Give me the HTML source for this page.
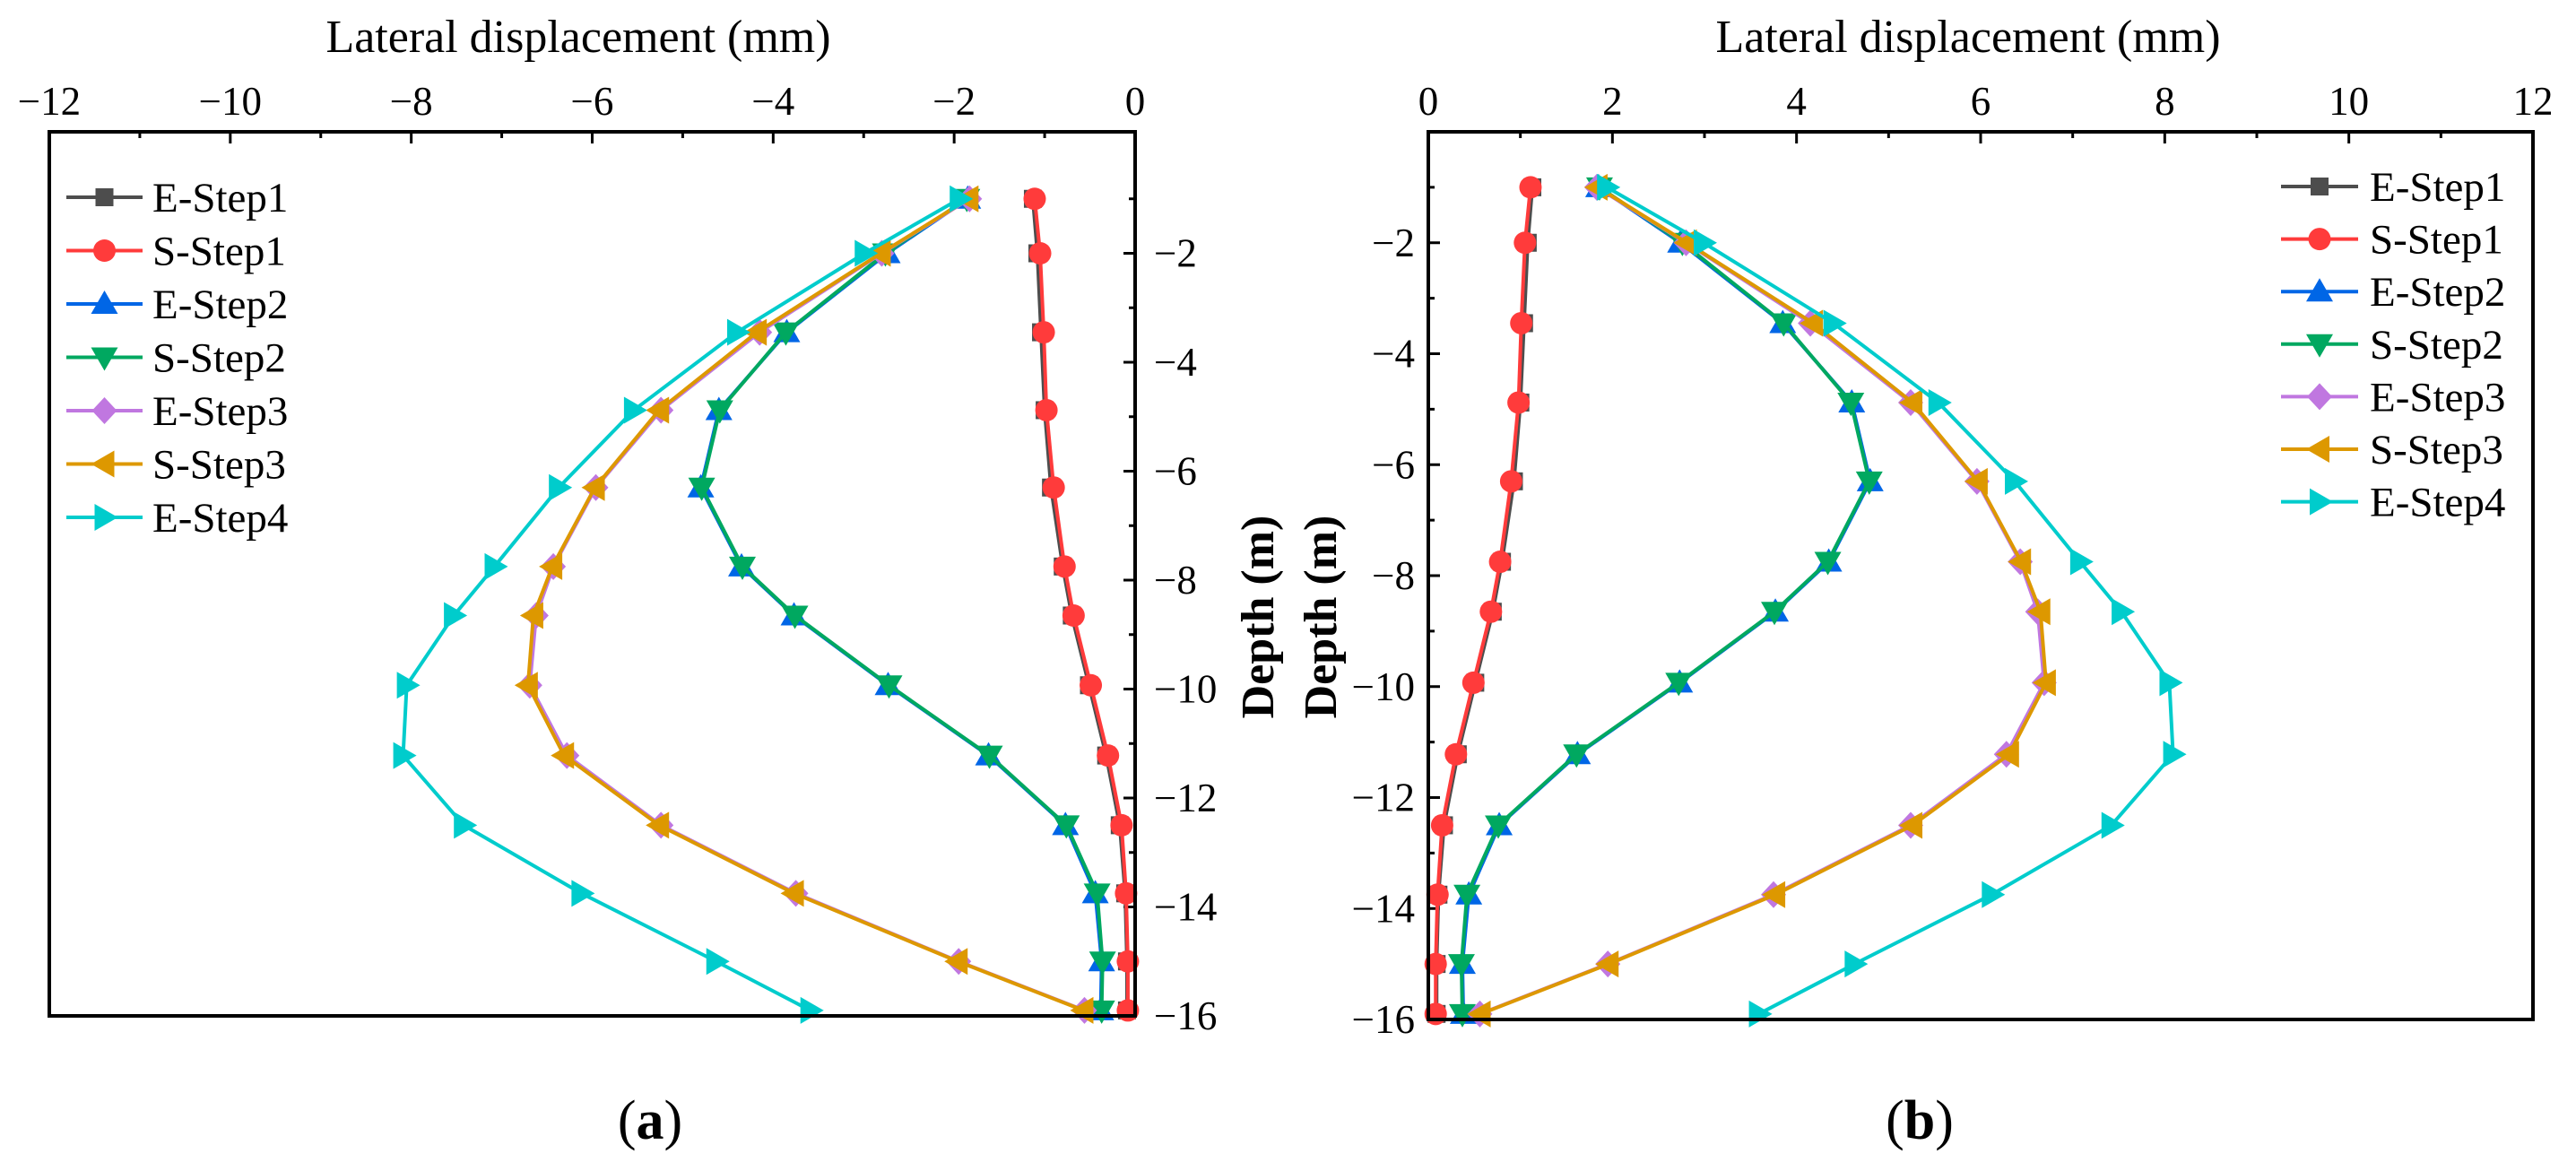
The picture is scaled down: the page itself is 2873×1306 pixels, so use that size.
<!DOCTYPE html>
<html><head><meta charset="utf-8"><style>
html,body{margin:0;padding:0;background:#fff;}
svg{display:block;font-family:"Liberation Serif",serif;}
</style></head><body>
<svg id="fig" width="2873" height="1306" viewBox="0 0 2873 1306" xmlns="http://www.w3.org/2000/svg"></svg>
<script>
const depths = [-1, -2, -3.45, -4.88, -6.3, -7.75, -8.65, -9.93, -11.22, -12.5, -13.75, -15, -15.9];
const eStep1 = [1.13, 1.08, 1.04, 1.0, 0.93, 0.8, 0.7, 0.51, 0.32, 0.17, 0.11, 0.09, 0.09];
const sStep1 = [1.11, 1.05, 1.01, 0.98, 0.9, 0.78, 0.68, 0.49, 0.3, 0.15, 0.1, 0.08, 0.08];
const eStep2 = [1.85, 2.74, 3.85, 4.6, 4.8, 4.35, 3.77, 2.73, 1.62, 0.77, 0.44, 0.37, 0.38];
const sStep2 = [1.86, 2.76, 3.86, 4.59, 4.79, 4.34, 3.76, 2.72, 1.61, 0.76, 0.42, 0.36, 0.37];
const eStep3 = [1.83, 2.8, 4.15, 5.24, 5.96, 6.43, 6.62, 6.69, 6.28, 5.24, 3.75, 1.95, 0.56];
const sStep3 = [1.84, 2.81, 4.18, 5.26, 5.97, 6.44, 6.65, 6.71, 6.31, 5.26, 3.77, 1.96, 0.57];
const eStep4 = [1.94, 2.99, 4.4, 5.54, 6.37, 7.08, 7.53, 8.05, 8.09, 7.42, 6.12, 4.63, 3.59];
const seriesNames = ["E-Step1","S-Step1","E-Step2","S-Step2","E-Step3","S-Step3","E-Step4"];
const seriesValues = [eStep1, sStep1, eStep2, sStep2, eStep3, sStep3, eStep4];
const xTicksA = [-12,-10,-8,-6,-4,-2,0];
const xTicksB = [0,2,4,6,8,10,12];
const yTicks = [-2,-4,-6,-8,-10,-12,-14,-16];

const colors = ["#4d4d4d","#ff3b3b","#0066e6","#00a860","#c077e0","#dd9800","#00cccc"];
const markers = ["square","circle","up","down","diamond","left","right"];
const NS = "http://www.w3.org/2000/svg";
const svg = document.getElementById("fig");
function mk(tag, attrs, parent){const e=document.createElementNS(NS,tag);for(const k in attrs)e.setAttribute(k,attrs[k]);(parent||svg).appendChild(e);return e;}

function marker(g, type, x, y, color){
  let e;
  if(type==="square") e=mk("rect",{x:x-10,y:y-10,width:20,height:20,fill:color},g);
  else if(type==="circle") e=mk("circle",{cx:x,cy:y,r:12.5,fill:color},g);
  else {
    let p;
    if(type==="up") p=[[x,y-15],[x+15,y+11],[x-15,y+11]];
    if(type==="down") p=[[x,y+15],[x+15,y-11],[x-15,y-11]];
    if(type==="diamond") p=[[x,y-15],[x+14,y],[x,y+15],[x-14,y]];
    if(type==="left") p=[[x-15,y],[x+11,y-15],[x+11,y+15]];
    if(type==="right") p=[[x+15,y],[x-11,y-15],[x-11,y+15]];
    e=mk("polygon",{points:p.map(q=>q.join(",")).join(" "),fill:color},g);
  }
  
  
}

function panel(cfg){
  const {id,L,R,T,B,y0,y16,xmin,xmax,sign,xticks,yAxisRight} = cfg;
  const g = mk("g",{});
  
  
  const xs = v => L + (v - xmin)/(xmax - xmin)*(R-L);
  const ys = d => y0 + (0 - d)/16*(y16-y0);
  for(let v=xmin; v<=xmax; v+=1){
    const major = (v%2===0);
    const t = mk("line",{x1:xs(v),x2:xs(v),y1:T,y2:T+(major?13:7),stroke:"#000","stroke-width":3},g);
    
    
  }
  xticks.forEach(v=>{
    const t = mk("text",{x:xs(v),y:128,"font-size":45,"text-anchor":"middle",fill:"#000"},g);
    t.textContent = v<0 ? "\u2212"+Math.abs(v) : String(v);
    
    
  });
  const yAx = yAxisRight ? R : L;
  const dir = yAxisRight ? -1 : 1;
  for(let d=-1; d>=-16; d-=1){
    const major = (d%2===0);
    const t = mk("line",{x1:yAx,x2:yAx+dir*(major?13:7),y1:ys(d),y2:ys(d),stroke:"#000","stroke-width":3},g);
    
    
  }
  yTicks.forEach(d=>{
    const t = mk("text",{x: yAxisRight ? R+21 : L-15, y: ys(d)+15,"font-size":45,"text-anchor": yAxisRight?"start":"end",fill:"#000"},g);
    t.textContent = "\u2212"+Math.abs(d);
    
    
  });
  seriesValues.forEach((vals,i)=>{
    const sg = mk("g",{},g);
    
    
    const pts = vals.map((v,j)=>[xs(sign*v), ys(depths[j])]);
    const pl = mk("polyline",{points:pts.map(p=>p.join(",")).join(" "),fill:"none",stroke:colors[i],"stroke-width":4,"stroke-linejoin":"round"},sg);
    
    
    pts.forEach(p=>marker(sg,markers[i],p[0],p[1],colors[i]));
  });
  const box = mk("rect",{x:L,y:T,width:R-L,height:B-T,fill:"none",stroke:"#000","stroke-width":4},g);
  
  
  const lg = mk("g",{},g);
  
  
  seriesNames.forEach((n,i)=>{
    const y = cfg.legY + i*cfg.legDy;
    const eg = mk("g",{},lg);
    
    
    mk("line",{x1:cfg.legX1,x2:cfg.legX2,y1:y,y2:y,stroke:colors[i],"stroke-width":4},eg);
    marker(eg,markers[i],(cfg.legX1+cfg.legX2)/2,y,colors[i]);
    const t = mk("text",{x:cfg.legTx,y:y+16,"font-size":47,fill:"#000"},eg);
    t.textContent = n;
  });
  const xt = mk("text",{x:cfg.titleX,y:58,"font-size":52,"text-anchor":"middle",fill:"#000"},g);
  xt.textContent = "Lateral displacement (mm)";
  
  
  const yt = mk("text",{x:0,y:0,"font-size":52,"font-weight":"bold","text-anchor":"middle",fill:"#000",transform:`translate(${cfg.depthX},${688}) rotate(-90)`},g);
  yt.textContent = "Depth (m)";
  
  
  const cap = mk("text",{x:cfg.capX,y:1270,"font-size":62,"text-anchor":"middle",fill:"#000"},g);
  cap.innerHTML = '(<tspan font-weight="bold">'+cfg.cap+'</tspan>)';
  
  
}

panel({id:"panel-a",L:55,R:1266,T:147,B:1133,y0:161,y16:1133,xmin:-12,xmax:0,sign:-1,xticks:xTicksA,yAxisRight:true,
  legX1:74,legX2:159,legTx:170,legY:220,legDy:59.5,titleX:645,depthX:1420,capX:725,cap:"a"});
panel({id:"panel-b",L:1593,R:2825,T:147,B:1137,y0:147,y16:1137,xmin:0,xmax:12,sign:1,xticks:xTicksB,yAxisRight:false,
  legX1:2544,legX2:2630,legTx:2643,legY:208,legDy:58.6,titleX:2195,depthX:1490,capX:2141,cap:"b"});
</script>
</body></html>
